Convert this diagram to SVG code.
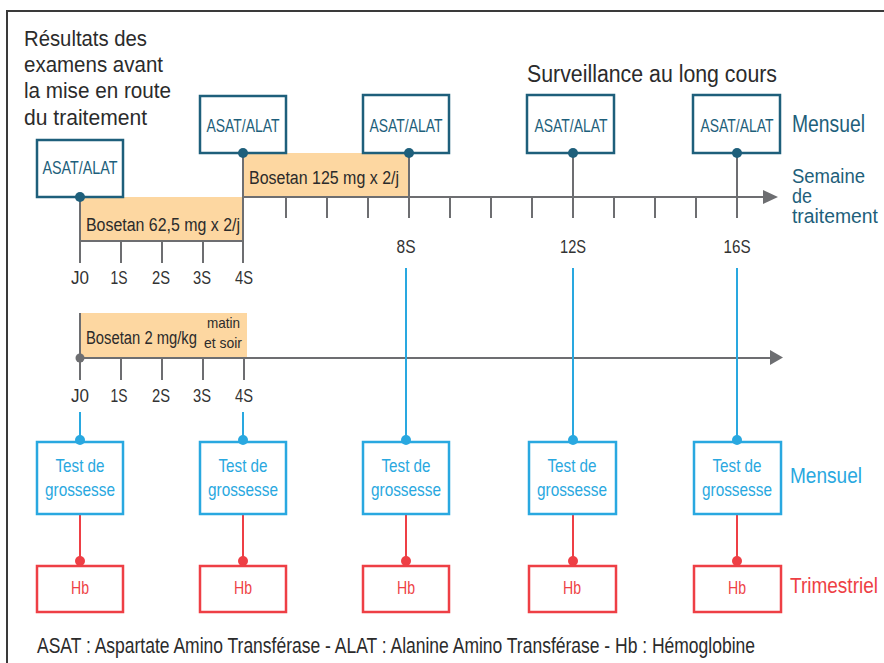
<svg xmlns="http://www.w3.org/2000/svg" width="884" height="663" viewBox="0 0 884 663">
<style>
text{font-family:"Liberation Sans",Arial,sans-serif;}
.frame{fill:none;stroke:#3a3a3a;stroke-width:2}
.asat{fill:#fff;stroke:#1e5f7b;stroke-width:2.5}
.asatT{fill:#1e5f7b;font-size:17.5px;text-anchor:middle}
.teal{fill:#1e5f7b}
.bar{fill:#fdd7a1}
.ax{stroke:#6d6e71;stroke-width:2;fill:none}
.arrow{fill:#6d6e71}
.tl{fill:#333;font-size:17.5px;text-anchor:middle}
.barT{fill:#2b2b2b;font-size:18px}
.blueL{stroke:#29a8e0;stroke-width:2;fill:none}
.blueB{fill:#fff;stroke:#29a8e0;stroke-width:2.5}
.blueT{fill:#29a8e0;font-size:18.5px;text-anchor:middle}
.redL{stroke:#ee3f45;stroke-width:2;fill:none}
.redB{fill:#fff;stroke:#ee3f45;stroke-width:2.5}
.redT{fill:#ee3f45;font-size:17.5px;text-anchor:middle}
.head{fill:#2b2b2b;font-size:22px}
</style>
<path class="frame" d="M7,663 V11 H884"/>
<g id="intro-text">
<text class="head" x="24" y="46" textLength="123" lengthAdjust="spacingAndGlyphs">Résultats des</text>
<text class="head" x="24" y="72" textLength="139" lengthAdjust="spacingAndGlyphs">examens avant</text>
<text class="head" x="24" y="98" textLength="147" lengthAdjust="spacingAndGlyphs">la mise en route</text>
<text class="head" x="24" y="125" textLength="123" lengthAdjust="spacingAndGlyphs">du traitement</text>
<text class="head" x="527" y="82" style="font-size:23px" textLength="250" lengthAdjust="spacingAndGlyphs">Surveillance au long cours</text>
</g>
<g id="bars">
<rect class="bar" x="80" y="197" width="163" height="44"/>
<rect class="bar" x="243" y="153" width="166" height="44"/>
<rect class="bar" x="80" y="313" width="167" height="45"/>
<text class="barT" x="86" y="231" textLength="154" lengthAdjust="spacingAndGlyphs">Bosetan 62,5 mg x 2/j</text>
<text class="barT" x="249" y="184" textLength="150" lengthAdjust="spacingAndGlyphs">Bosetan 125 mg x 2/j</text>
<text class="barT" x="86" y="344" textLength="111" lengthAdjust="spacingAndGlyphs">Bosetan 2 mg/kg</text>
<text class="barT" x="207" y="328" style="font-size:14.5px" textLength="33" lengthAdjust="spacingAndGlyphs">matin</text>
<text class="barT" x="204" y="348" style="font-size:14.5px" textLength="38" lengthAdjust="spacingAndGlyphs">et soir</text>
</g>
<g id="connectors">
<path class="ax" d="M80,197 V263 M80,241 H243 M121,241 V263 M162,241 V263 M203,241 V263 M243,153 V263 M243,197 H764"/>
<path class="ax" d="M286,197 V218 M327,197 V218 M368,197 V218 M409,153 V218 M450,197 V218 M491,197 V218 M532,197 V218 M573,153 V218 M614,197 V218 M655,197 V218 M696,197 V218 M737,153 V218"/>
<polygon class="arrow" points="763,190 778,197 763,204"/>
<path class="ax" d="M80,313 V380 M80,358 H771 M121,358 V380 M162,358 V380 M203,358 V380 M244,358 V380"/>
<polygon class="arrow" points="770,350 783,357.5 770,365"/>
<circle cx="80" cy="358" r="4.5" fill="#6d6e71"/>
<path class="blueL" d="M80,412 V440 M243,412 V440 M406,268 V440 M573,268 V440 M737,268 V440"/>
<path class="redL" d="M80,514 V560 M243,514 V560 M406,514 V560 M573,514 V560 M737,514 V560"/>
</g>
<g id="axis-labels">
<text class="tl" x="80" y="284" textLength="18" lengthAdjust="spacingAndGlyphs">J0</text>
<text class="tl" x="119" y="284" textLength="17" lengthAdjust="spacingAndGlyphs">1S</text>
<text class="tl" x="161" y="284" textLength="18" lengthAdjust="spacingAndGlyphs">2S</text>
<text class="tl" x="202" y="284" textLength="18" lengthAdjust="spacingAndGlyphs">3S</text>
<text class="tl" x="244" y="284" textLength="18" lengthAdjust="spacingAndGlyphs">4S</text>
<text class="tl" x="406" y="253" textLength="19" lengthAdjust="spacingAndGlyphs">8S</text>
<text class="tl" x="573" y="253" textLength="26" lengthAdjust="spacingAndGlyphs">12S</text>
<text class="tl" x="737" y="253" textLength="27" lengthAdjust="spacingAndGlyphs">16S</text>
<text class="tl" x="80" y="402" textLength="18" lengthAdjust="spacingAndGlyphs">J0</text>
<text class="tl" x="119" y="402" textLength="17" lengthAdjust="spacingAndGlyphs">1S</text>
<text class="tl" x="161" y="402" textLength="18" lengthAdjust="spacingAndGlyphs">2S</text>
<text class="tl" x="202" y="402" textLength="18" lengthAdjust="spacingAndGlyphs">3S</text>
<text class="tl" x="244" y="402" textLength="18" lengthAdjust="spacingAndGlyphs">4S</text>
</g>
<g id="asat-j0"><rect class="asat" x="37" y="140" width="86" height="57"/><text class="asatT" x="80" y="174" textLength="75" lengthAdjust="spacingAndGlyphs">ASAT/ALAT</text><circle class="teal" cx="80" cy="197" r="5"/></g>
<g id="asat-4s"><rect class="asat" x="200" y="96" width="86" height="57"/><text class="asatT" x="243" y="132" textLength="73" lengthAdjust="spacingAndGlyphs">ASAT/ALAT</text><circle class="teal" cx="243" cy="153" r="5"/></g>
<g id="asat-8s"><rect class="asat" x="363" y="95" width="86" height="58"/><text class="asatT" x="406" y="132" textLength="73" lengthAdjust="spacingAndGlyphs">ASAT/ALAT</text><circle class="teal" cx="409" cy="153" r="5"/></g>
<g id="asat-12s"><rect class="asat" x="527" y="95" width="87" height="58"/><text class="asatT" x="571" y="132" textLength="73" lengthAdjust="spacingAndGlyphs">ASAT/ALAT</text><circle class="teal" cx="573" cy="153" r="5"/></g>
<g id="asat-16s"><rect class="asat" x="693" y="95" width="87" height="58"/><text class="asatT" x="737" y="132" textLength="73" lengthAdjust="spacingAndGlyphs">ASAT/ALAT</text><circle class="teal" cx="737" cy="153" r="5"/></g>
<g id="labels-right">
<text class="teal" x="792" y="132" style="font-size:23px" textLength="73" lengthAdjust="spacingAndGlyphs">Mensuel</text>
<text class="teal" x="792" y="183" style="font-size:20px" textLength="73" lengthAdjust="spacingAndGlyphs">Semaine</text>
<text class="teal" x="792" y="203" style="font-size:20px" textLength="20" lengthAdjust="spacingAndGlyphs">de</text>
<text class="teal" x="792" y="223" style="font-size:20px" textLength="86" lengthAdjust="spacingAndGlyphs">traitement</text>
<text x="790" y="483" style="font-size:22px;fill:#29a8e0" textLength="72" lengthAdjust="spacingAndGlyphs">Mensuel</text>
<text x="790" y="593" style="font-size:22px;fill:#ee3f45" textLength="88" lengthAdjust="spacingAndGlyphs">Trimestriel</text>
</g>
<g id="test-j0"><rect class="blueB" x="37" y="442" width="86" height="72"/><text class="blueT" x="80" y="472" textLength="49" lengthAdjust="spacingAndGlyphs">Test de</text><text class="blueT" x="80" y="496" textLength="70" lengthAdjust="spacingAndGlyphs">grossesse</text><circle cx="80" cy="440" r="5" fill="#29a8e0"/></g>
<g id="test-4s"><rect class="blueB" x="200" y="442" width="86" height="72"/><text class="blueT" x="243" y="472" textLength="49" lengthAdjust="spacingAndGlyphs">Test de</text><text class="blueT" x="243" y="496" textLength="70" lengthAdjust="spacingAndGlyphs">grossesse</text><circle cx="243" cy="440" r="5" fill="#29a8e0"/></g>
<g id="test-8s"><rect class="blueB" x="363" y="442" width="86" height="72"/><text class="blueT" x="406" y="472" textLength="49" lengthAdjust="spacingAndGlyphs">Test de</text><text class="blueT" x="406" y="496" textLength="70" lengthAdjust="spacingAndGlyphs">grossesse</text><circle cx="406" cy="440" r="5" fill="#29a8e0"/></g>
<g id="test-12s"><rect class="blueB" x="529" y="442" width="87" height="72"/><text class="blueT" x="572" y="472" textLength="49" lengthAdjust="spacingAndGlyphs">Test de</text><text class="blueT" x="572" y="496" textLength="70" lengthAdjust="spacingAndGlyphs">grossesse</text><circle cx="573" cy="440" r="5" fill="#29a8e0"/></g>
<g id="test-16s"><rect class="blueB" x="694" y="442" width="87" height="72"/><text class="blueT" x="737" y="472" textLength="49" lengthAdjust="spacingAndGlyphs">Test de</text><text class="blueT" x="737" y="496" textLength="70" lengthAdjust="spacingAndGlyphs">grossesse</text><circle cx="737" cy="440" r="5" fill="#29a8e0"/></g>
<g id="hb-j0"><rect class="redB" x="37" y="566" width="86" height="46"/><text class="redT" x="80" y="594" textLength="18" lengthAdjust="spacingAndGlyphs">Hb</text><circle cx="80" cy="561" r="5" fill="#ee3f45"/></g>
<g id="hb-4s"><rect class="redB" x="200" y="566" width="86" height="46"/><text class="redT" x="243" y="594" textLength="18" lengthAdjust="spacingAndGlyphs">Hb</text><circle cx="243" cy="561" r="5" fill="#ee3f45"/></g>
<g id="hb-8s"><rect class="redB" x="363" y="566" width="86" height="46"/><text class="redT" x="406" y="594" textLength="18" lengthAdjust="spacingAndGlyphs">Hb</text><circle cx="406" cy="561" r="5" fill="#ee3f45"/></g>
<g id="hb-12s"><rect class="redB" x="529" y="566" width="87" height="46"/><text class="redT" x="572" y="594" textLength="18" lengthAdjust="spacingAndGlyphs">Hb</text><circle cx="573" cy="561" r="5" fill="#ee3f45"/></g>
<g id="hb-16s"><rect class="redB" x="694" y="566" width="87" height="46"/><text class="redT" x="737" y="594" textLength="18" lengthAdjust="spacingAndGlyphs">Hb</text><circle cx="737" cy="561" r="5" fill="#ee3f45"/></g>
<g id="legend">
<text x="37" y="653" style="font-size:22px;fill:#2b2b2b" textLength="718" lengthAdjust="spacingAndGlyphs">ASAT : Aspartate Amino Transférase - ALAT : Alanine Amino Transférase - Hb : Hémoglobine</text>
</g>
</svg>
